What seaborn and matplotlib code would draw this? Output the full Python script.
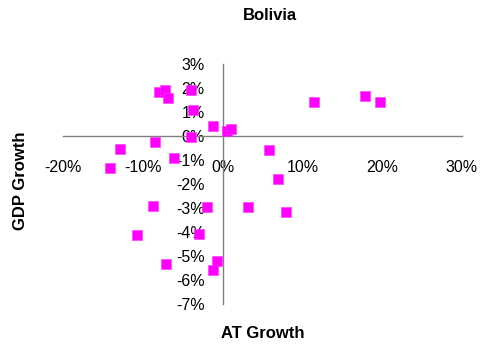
import matplotlib
matplotlib.use("Agg")
from matplotlib import pyplot as plt
from matplotlib.ticker import FuncFormatter
import pandas as pd
import seaborn as sns

# AT growth (%) vs GDP growth (%)
at_growth = [-8.0, -7.2, -6.9, -4.0, -3.7, -1.2, 0.5, 1.05, -4.0, -8.5,
             -12.9, -14.05, -6.1, 5.8, 6.9, 8.0, 11.5, 17.9, 19.7, -8.7,
             -1.9, 3.2, -10.7, -2.9, -7.15, -0.7, -1.15]
gdp_growth = [1.83, 1.9, 1.6, 1.9, 1.08, 0.42, 0.2, 0.28, -0.03, -0.24,
              -0.54, -1.35, -0.93, -0.57, -1.79, -3.18, 1.40, 1.68, 1.40, -2.9,
              -2.97, -2.94, -4.13, -4.08, -5.35, -5.2, -5.6]
x_ticks = [-20, -10, 0, 10, 20, 30]
y_ticks = [-7, -6, -5, -4, -3, -2, -1, 0, 1, 2, 3]

df = pd.DataFrame({"AT Growth": at_growth, "GDP Growth": gdp_growth})

sns.set_style("white")
plt.rcParams["font.family"] = ["Liberation Sans", "DejaVu Sans"]
plt.rcParams["text.color"] = "black"

fig = plt.figure(figsize=(4.89, 3.47), dpi=100)
ax = fig.add_axes([63 / 489, 1 - 304 / 347, 399 / 489, 240 / 347])
sns.scatterplot(data=df, x="AT Growth", y="GDP Growth", ax=ax, marker="s",
                s=44, color="#FF00FF", edgecolor="#FF33FF", linewidth=0.4,
                zorder=3, clip_on=False)

ax.set_xlim(-20, 30)
ax.set_ylim(-7, 3)
ax.set_xticks(x_ticks)
ax.set_yticks(y_ticks)
pct = FuncFormatter(lambda v, _: f"{v:.0f}%")
ax.xaxis.set_major_formatter(pct)
ax.yaxis.set_major_formatter(pct)

for side in ["top", "right"]:
    ax.spines[side].set_visible(False)
ax.spines["left"].set_position(("data", 0))
ax.spines["bottom"].set_position(("data", 0))
for side in ["left", "bottom"]:
    ax.spines[side].set_color("#808080")
    ax.spines[side].set_linewidth(1.0)

ax.tick_params(axis="both", direction="out", length=5, width=1.0,
               color="#808080", labelsize=11.5, labelcolor="black")
ax.tick_params(axis="x", pad=12)
ax.tick_params(axis="y", pad=8)
ax.set_xlabel("")
ax.set_ylabel("")
ax.grid(False)

fig.text(270 / 489, 1 - 15 / 347, "Bolivia", ha="center", va="center",
         fontsize=12, fontweight="bold", color="black")
fig.text(263 / 489, 1 - 334 / 347, "AT Growth", ha="center", va="center",
         fontsize=12, fontweight="bold", color="black")
fig.text(21 / 489, 1 - 181 / 347, "GDP Growth", ha="center", va="center",
         fontsize=12, fontweight="bold", rotation=90, color="black")

fig.savefig("out.png", dpi=100)
